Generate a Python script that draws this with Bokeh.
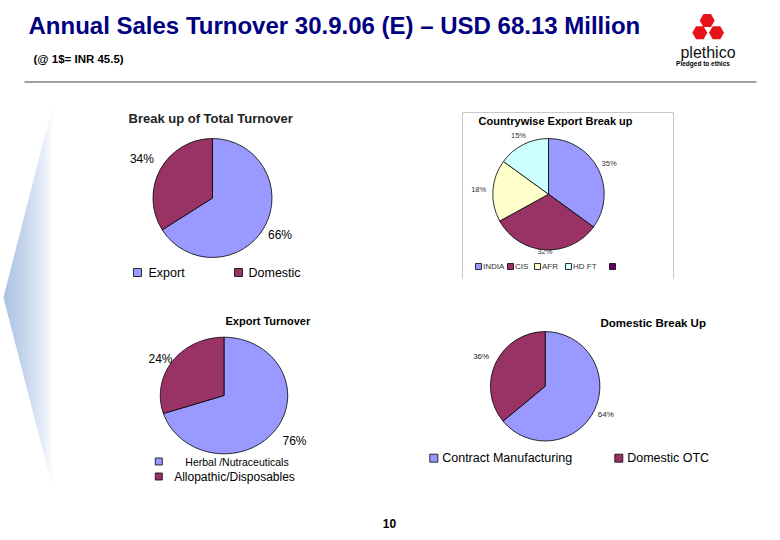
import numpy as np
from bokeh.plotting import figure
from bokeh.models import Range1d
from bokeh.embed import file_html
from bokeh.resources import INLINE
from bokeh.core.properties import value

# ---------------- data ----------------
title_text = "Annual Sales Turnover 30.9.06 (E) \u2013 USD 68.13 Million"
subtitle_text = "(@ 1$= INR 45.5)"

total_title = "Break up of Total Turnover"
total_labels = ["Export", "Domestic"]
total_values = [66, 34]

country_title = "Countrywise Export Break up"
country_labels = ["INDIA", "CIS", "AFR", "HD FT", ""]
country_values = [35, 32, 18, 15]

export_title = "Export Turnover"
export_labels = ["Herbal /Nutraceuticals", "Allopathic/Disposables"]
export_values = [70, 30]          # slice sizes as drawn
export_pct_text = ["76%", "24%"]  # labels as printed

domestic_title = "Domestic Break Up"
domestic_labels = ["Contract Manufacturing", "Domestic OTC"]
domestic_values = [64, 36]

page_number = "10"

# ---------------- styling ----------------
BLUE, PLUM, LYEL, LCYAN, DPUR = "#9999FF", "#993366", "#FFFFCC", "#CCFFFF", "#660066"
FONT = "Liberation Sans"

W, H = 764, 532
p = figure(width=W, height=H, output_backend="svg", toolbar_location=None,
           x_range=Range1d(0, W), y_range=Range1d(-H, 0), min_border=0)
p.axis.visible = False
p.grid.visible = False
p.outline_line_color = None
p.background_fill_color = "white"
p.border_fill_color = "white"


def txt(x, y, s, size, bold=False, color="black", align="left", font=FONT):
    p.text(x=[x], y=[-y], text=[s], text_font=value(font),
           text_font_size=f"{size}px", text_font_style="bold" if bold else "normal",
           text_color=color, text_align=align, text_baseline="middle")


def angles(vals):
    fr = np.array(vals, dtype=float) / float(sum(vals))
    cum = np.concatenate([[0.0], np.cumsum(fr)])
    start = np.pi / 2 - 2 * np.pi * cum[:-1]
    end = np.pi / 2 - 2 * np.pi * cum[1:]
    return start, end


def pie(cx, cy, r, vals, colors):
    start, end = angles(vals)
    n = len(vals)
    p.wedge(x=[cx] * n, y=[-cy] * n, radius=r, start_angle=list(end),
            end_angle=list(start), direction="anticlock",
            fill_color=colors[:n], line_color="black", line_width=0.8)
    return start, end


def epie(cx, cy, rx, ry, vals, colors):
    start, end = angles(vals)
    xs, ys = [], []
    for a0, a1 in zip(start, end):
        t = np.linspace(a0, a1, 80)
        xs.append([cx] + list(cx + rx * np.cos(t)))
        ys.append([-cy] + list(-cy + ry * np.sin(t)))
    p.patches(xs=xs, ys=ys, fill_color=colors[:len(vals)], line_color="black", line_width=0.8)
    return start, end


def pct_labels(cx, cy, start, end, texts, dists, size, color="black"):
    for a0, a1, t, d in zip(start, end, texts, dists):
        m = (a0 + a1) / 2
        txt(cx + d * np.cos(m), cy - d * np.sin(m), t, size, color=color, align="center")


def square(x, y, color, size=8):
    p.scatter(x=[x], y=[-y], marker="square", size=size, fill_color=color,
              line_color="black", line_width=0.8)


# ---------------- decorative left shape (fading chevron) ----------------
ax, ay = 3, 297
for xk in np.linspace(6, 52, 16):
    p.patch(x=[ax, xk, xk], y=[-ay, -(ay - (xk - ax) * 3.91), -(ay + (xk - ax) * 3.89)],
            fill_color="#7FA6DA", fill_alpha=0.05, line_color=None)

# ---------------- header ----------------
txt(28, 24.5, title_text, 24, bold=True, color="#000080")
txt(33, 58, subtitle_text, 11.5, bold=True, color="black")
p.line(x=[24, 756], y=[-81.5, -81.5], line_color="#A0A0A0", line_width=2)

# logo
p.scatter(x=[706.7, 699.3, 716.0], y=[-20, -32.3, -32.3], marker="hex", size=15,
          fill_color="#E8121A", line_color=None)
txt(707.5, 52, "plethico", 16, color="#111111", align="center")
txt(702.5, 63, "Pledged to ethics", 6.5, bold=True, align="center")

# ---------------- pie 1: total turnover ----------------
txt(128, 118, total_title, 13, bold=True, color="#222222")
s, e = pie(212, 197.5, 59.5, total_values, [BLUE, PLUM])
pct_labels(212, 197.5, s, e, [f"{v}%" for v in total_values], [77, 80.5], 12)
square(137, 272, BLUE)
txt(148, 272, total_labels[0], 12.5)
square(238, 272, PLUM)
txt(248, 272, total_labels[1], 12.5)

# ---------------- pie 2: countrywise ----------------
p.line(x=[462, 462, 673, 673], y=[-278, -112, -112, -278], line_color="#C8C8C8", line_width=1)
txt(478, 120, country_title, 11, bold=True)
s, e = pie(548, 193.7, 55.7, country_values, [BLUE, PLUM, LYEL, LCYAN])
pct_labels(548, 193.7, s, e, [f"{v}%" for v in country_values], [68, 57, 70, 66], 7.5, color="#333333")
leg_sq = [478, 510, 537, 568, 612]
leg_cols = [BLUE, PLUM, LYEL, LCYAN, DPUR]
for xq, c, lab in zip(leg_sq, leg_cols, country_labels):
    square(xq, 266, c, size=6)
    if lab:
        txt(xq + 4.5, 266, lab, 8, color="#333333")

# ---------------- pie 3: export turnover ----------------
txt(225, 320, export_title, 11, bold=True)
s, e = epie(223.5, 395, 63.7, 58.3, export_values, [BLUE, PLUM])
txt(294, 440, export_pct_text[0], 12, align="center")
txt(160, 358, export_pct_text[1], 12, align="center")
square(158.3, 461, BLUE, size=7)
txt(236.5, 461, export_labels[0], 10.5, align="center")
square(158.3, 476, PLUM, size=7)
txt(234, 476, export_labels[1], 12, align="center")

# ---------------- pie 4: domestic break up ----------------
txt(600, 322, domestic_title, 11.5, bold=True)
s, e = pie(544.7, 385.8, 54.7, domestic_values, [BLUE, PLUM])
pct_labels(544.7, 385.8, s, e, [f"{v}%" for v in domestic_values], [67, 70.8], 8, color="#222222")
square(433.3, 457.7, BLUE)
txt(441.7, 457.7, domestic_labels[0], 12.5)
square(618.3, 457.7, PLUM)
txt(626.7, 457.7, domestic_labels[1], 12.5)

# ---------------- page number ----------------
txt(389, 523, page_number, 12, bold=True, align="center")

open("out.html", "w").write(file_html(p, INLINE))
